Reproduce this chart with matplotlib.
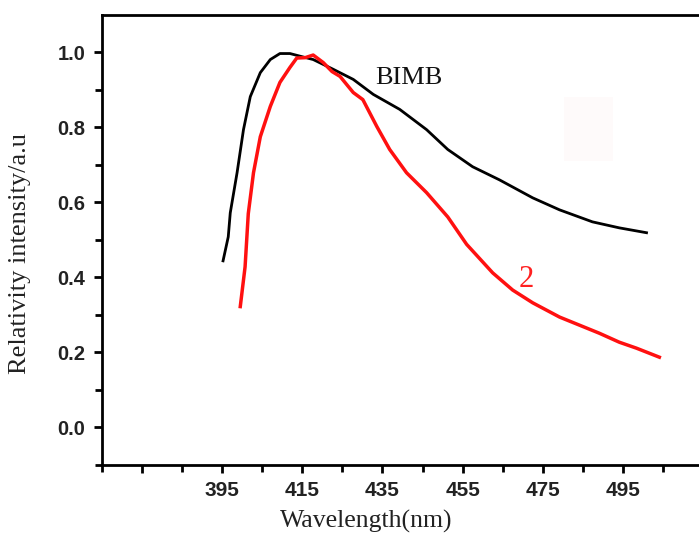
import matplotlib.pyplot as plt
from matplotlib.patches import Rectangle
from matplotlib.ticker import FixedLocator

# Data
bimb_wl = [395.2, 396.5, 397.0, 398.7, 400.3, 402.0, 404.5, 407.0, 409.4, 411.9, 414.4,
           417.7, 422.7, 427.7, 432.7, 439.3, 446.0, 451.3, 457.5, 464.2, 472.5, 479.2,
           487.4, 494.1, 500.9]
bimb_int = [0.444, 0.508, 0.572, 0.679, 0.794, 0.882, 0.946, 0.981, 0.997, 0.997, 0.990,
            0.981, 0.955, 0.928, 0.888, 0.848, 0.794, 0.741, 0.695, 0.660, 0.612, 0.580,
            0.548, 0.532, 0.519]

s2_wl = [399.5, 400.7, 401.5, 402.8, 404.5, 407.0, 409.4, 411.9, 413.6, 415.7, 417.7,
         420.2, 422.4, 424.4, 427.7, 430.1, 433.6, 436.8, 441.0, 446.0, 451.3, 456.0,
         462.5, 467.5, 472.5, 479.2, 489.1, 494.1, 498.4, 504.1]
s2_int = [0.322, 0.428, 0.570, 0.679, 0.775, 0.856, 0.920, 0.960, 0.985, 0.986, 0.993,
          0.973, 0.949, 0.936, 0.893, 0.874, 0.802, 0.741, 0.679, 0.626, 0.561, 0.488,
          0.412, 0.366, 0.332, 0.294, 0.251, 0.227, 0.211, 0.187]

x_major = [375, 395, 415, 435, 455, 475, 495]
x_labels = ['', '395', '415', '435', '455', '475', '495']
x_minor = [365, 385, 405, 425, 445, 465, 485, 505]
y_major = [0.0, 0.2, 0.4, 0.6, 0.8, 1.0]
y_minor = [-0.1, 0.1, 0.3, 0.5, 0.7, 0.9]

fig = plt.figure(figsize=(6.99, 5.33), dpi=100)
ax = fig.add_axes([0.146, 0.128, 0.854, 0.844])

ax.plot(bimb_wl, bimb_int, color='black', lw=2.0, solid_joinstyle='round')
ax.plot(s2_wl, s2_int, color='#ff1010', lw=2.5, solid_joinstyle='round')

# faint square left in the original image
ax.add_patch(Rectangle((480.2, 0.71), 12.4, 0.17, facecolor='#fefafa',
                       edgecolor='none', zorder=0))

ax.text(433.1, 0.933, 'BIMB', family='Liberation Serif', fontsize=19,
        color='#111111', va='center', ha='left')
ax.text(471.0, 0.395, '2', family='Liberation Serif', fontsize=22,
        color='#ff2020', va='center', ha='center')

ax.set_xlim(365, 514)
ax.set_ylim(-0.1, 1.1)
ax.xaxis.set_major_locator(FixedLocator(x_major))
ax.xaxis.set_minor_locator(FixedLocator(x_minor))
ax.set_xticklabels(x_labels)
ax.yaxis.set_major_locator(FixedLocator(y_major))
ax.yaxis.set_minor_locator(FixedLocator(y_minor))
ax.set_yticklabels(['%.1f' % v for v in y_major])

for sp in ['left', 'bottom', 'top']:
    ax.spines[sp].set_linewidth(2.0)
ax.spines['right'].set_visible(False)

ax.tick_params(which='major', direction='out', length=6, width=2,
               top=False, right=False, pad=6)
ax.tick_params(which='minor', direction='out', length=5, width=2,
               top=False, right=False)
for lab in ax.get_xticklabels():
    lab.set_family('Liberation Sans')
    lab.set_fontweight('bold')
    lab.set_fontsize(15)
    lab.set_color('#222222')
for lab in ax.get_yticklabels():
    lab.set_family('Liberation Sans')
    lab.set_fontweight('bold')
    lab.set_fontsize(14.5)
    lab.set_color('#222222')

fig.text(0.524, 0.022, 'Wavelength(nm)', family='Liberation Serif', fontsize=18.5,
         ha='center', va='center', color='#222222')
fig.text(0.028, 0.525, 'Relativity intensity/a.u', family='Liberation Serif', fontsize=19,
         ha='center', va='center', rotation=90, color='#222222')

fig.savefig('out.png', dpi=100)
